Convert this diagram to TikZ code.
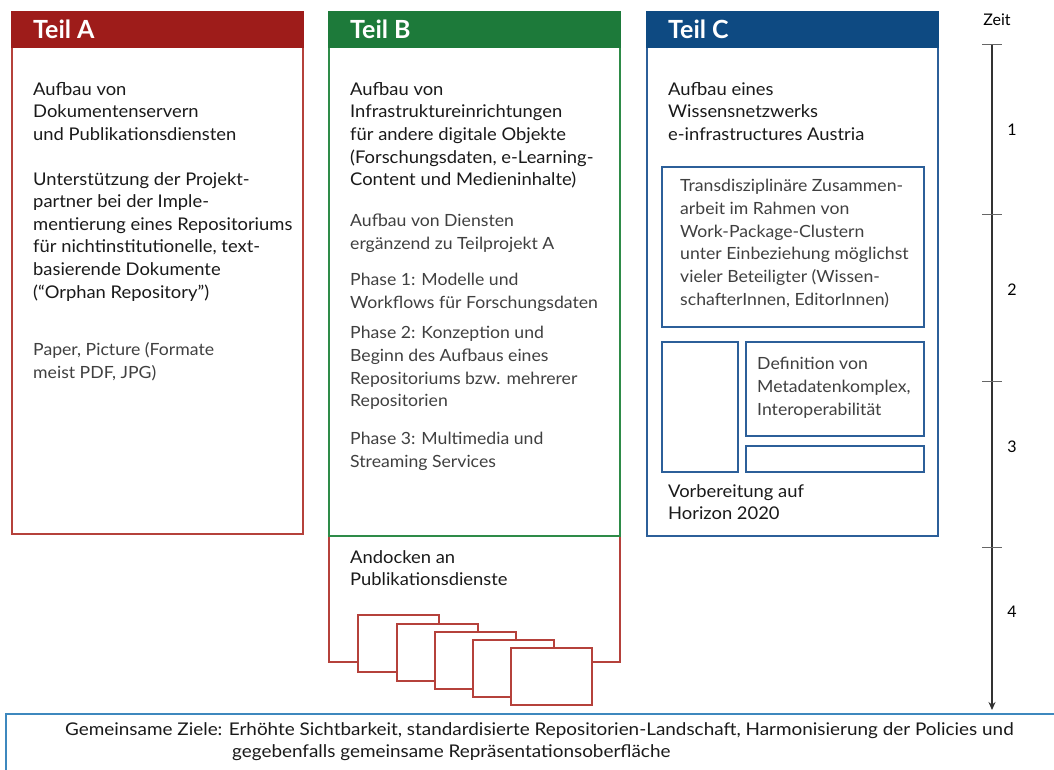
\documentclass[tikz,border=0pt]{standalone}
\usepackage{fontspec}
\setmainfont[FakeStretch=1.05]{Lato}
\newfontfamily\goalfont[FakeStretch=1.08]{Lato}
\newfontfamily\plainfont{Lato}
\usetikzlibrary{arrows.meta}
\definecolor{redH}{HTML}{9E1C1A}
\definecolor{redB}{HTML}{B5413B}
\definecolor{greenH}{HTML}{1D7A3A}
\definecolor{greenB}{HTML}{2E8B48}
\definecolor{blueH}{HTML}{0E4A82}
\definecolor{blueB}{HTML}{2C5F99}
\definecolor{goalB}{HTML}{3E88BE}
\definecolor{txtK}{HTML}{1A1A1A}
\definecolor{txtG}{HTML}{404040}
\begin{document}
\begin{tikzpicture}[x=1pt,y=-1pt,
  panel/.style={draw=#1, line width=1.6pt, anchor=north west, inner sep=0pt, fill=white},
  head/.style={fill=#1, draw=#1, line width=1.6pt, anchor=north west, inner sep=0pt, minimum height=35pt},
  headtxt/.style={anchor=west, inner sep=0pt, text=white, font=\plainfont\fontsize{25}{28}\selectfont\bfseries},
  txt/.style={anchor=north west, inner sep=0pt, align=left, text=txtK, font=\fontsize{17.5}{22.6}\selectfont},
  gtxt/.style={anchor=north west, inner sep=0pt, align=left, text=txtG, font=\fontsize{16.8}{22.8}\selectfont},
  gl/.style={anchor=west, inner sep=0pt, text=txtK, font=\goalfont\fontsize{17.5}{20}\selectfont},
  card/.style={draw=redB, line width=1.6pt, fill=white, anchor=north west, inner sep=0pt, minimum width=81pt, minimum height=57pt},
  tick/.style={line width=0.8pt, draw=black!60},
  nr/.style={inner sep=0pt, font=\plainfont\fontsize{16}{18}\selectfont}]
\useasboundingbox (0,0) rectangle (1054,769);

% goals box
\node[panel=goalB, line width=1.5pt, minimum width=1060pt, minimum height=70pt] (goal) at (5,713) {};
\node[gl] (g1) at (65,731) {Gemeinsame Ziele: Erhöhte Sichtbarkeit, standardisierte Repositorien-Landschaft, Harmonisierung der Policies und};
\node[gl] (g2) at (232,753) {gegebenfalls gemeinsame Repräsentationsoberfläche};

% Teil A
\node[panel=redB, minimum width=291pt, minimum height=522pt] (A) at (11,11) {};
\node[head=redH, minimum width=291pt] (Ah) at (11,11) {};
\node[headtxt] (Aht) at (33,29) {Teil A};
\node[txt] (A1) at (33,82) {Aufbau von\\Dokumentenservern\\und Publikationsdiensten};
\node[txt] (A2) at (33,172) {Unterstützung der Projekt-\\partner bei der Imple-\\mentierung eines Repositoriums\\für nichtinstitutionelle, text-\\basierende Dokumente\\(“Orphan Repository”)};
\node[gtxt] (A3) at (33,342) {Paper, Picture (Formate\\meist PDF, JPG)};

% Teil B
\node[panel=redB, minimum width=291pt, minimum height=140pt] (Bdock) at (328,521) {};
\node[panel=greenB, minimum width=291pt, minimum height=524pt] (B) at (328,11) {};
\node[head=greenH, minimum width=291pt] (Bh) at (328,11) {};
\node[headtxt] (Bht) at (350,29) {Teil B};
\node[txt] (B1) at (350,82) {Aufbau von\\Infrastruktureinrichtungen\\für andere digitale Objekte\\(Forschungsdaten, e-Learning-\\Content und Medieninhalte)};
\node[gtxt] (B2) at (350,214) {Aufbau von Diensten\\ergänzend zu Teilprojekt A};
\node[gtxt] (B3) at (350,273) {Phase 1: Modelle und\\Workflows für Forschungsdaten};
\node[gtxt] (B4) at (350,326) {Phase 2: Konzeption und\\Beginn des Aufbaus eines\\Repositoriums bzw. mehrerer\\Repositorien};
\node[gtxt] (B5) at (350,432) {Phase 3: Multimedia und\\Streaming Services};
\node[txt] (B6) at (350,550) {Andocken an\\Publikationsdienste};
\node[card] (k1) at (357,614) {};
\node[card] (k2) at (396,623) {};
\node[card] (k3) at (434,631) {};
\node[card] (k4) at (472,639) {};
\node[card] (k5) at (510,647) {};

% Teil C
\node[panel=blueB, minimum width=291pt, minimum height=524pt] (C) at (646,11) {};
\node[head=blueH, minimum width=291pt] (Ch) at (646,11) {};
\node[headtxt] (Cht) at (668,29) {Teil C};
\node[txt] (C1) at (668,82) {Aufbau eines\\Wissensnetzwerks\\e-infrastructures Austria};
\node[panel=blueB, minimum width=262pt, minimum height=160pt] (Cb1) at (661,166) {};
\node[gtxt] (C2) at (680,179) {Transdisziplinäre Zusammen-\\arbeit im Rahmen von\\Work-Package-Clustern\\unter Einbeziehung möglichst\\vieler Beteiligter (Wissen-\\schafterInnen, EditorInnen)};
\node[panel=blueB, minimum width=76pt, minimum height=130pt] (Cb2) at (661,341) {};
\node[panel=blueB, minimum width=178pt, minimum height=94pt] (Cb3) at (745,341) {};
\node[gtxt] (C3) at (757,357) {Definition von\\Metadatenkomplex,\\Interoperabilität};
\node[panel=blueB, minimum width=178pt, minimum height=26pt] (Cb4) at (745,445) {};
\node[txt] (C4) at (668,484) {Vorbereitung auf\\Horizon 2020};

% time axis
\node[nr] (zeit) at (997,20) {Zeit};
\coordinate (t0) at (992,44);
\coordinate (t1) at (992,214);
\coordinate (t2) at (992,381);
\coordinate (t3) at (992,547);
\coordinate (tend) at (992,710);
\draw[line width=1.4pt, draw=black!80, -{Stealth[length=8pt,width=7pt]}] (t0) -- (tend);
\foreach \t in {t0,t1,t2,t3} \draw[tick] ([xshift=-10pt]\t) -- ([xshift=10pt]\t);
\node[nr] (n1) at (1012,130) {1};
\node[nr] (n2) at (1012,290) {2};
\node[nr] (n3) at (1012,447) {3};
\node[nr] (n4) at (1012,612) {4};
\end{tikzpicture}
\end{document}
